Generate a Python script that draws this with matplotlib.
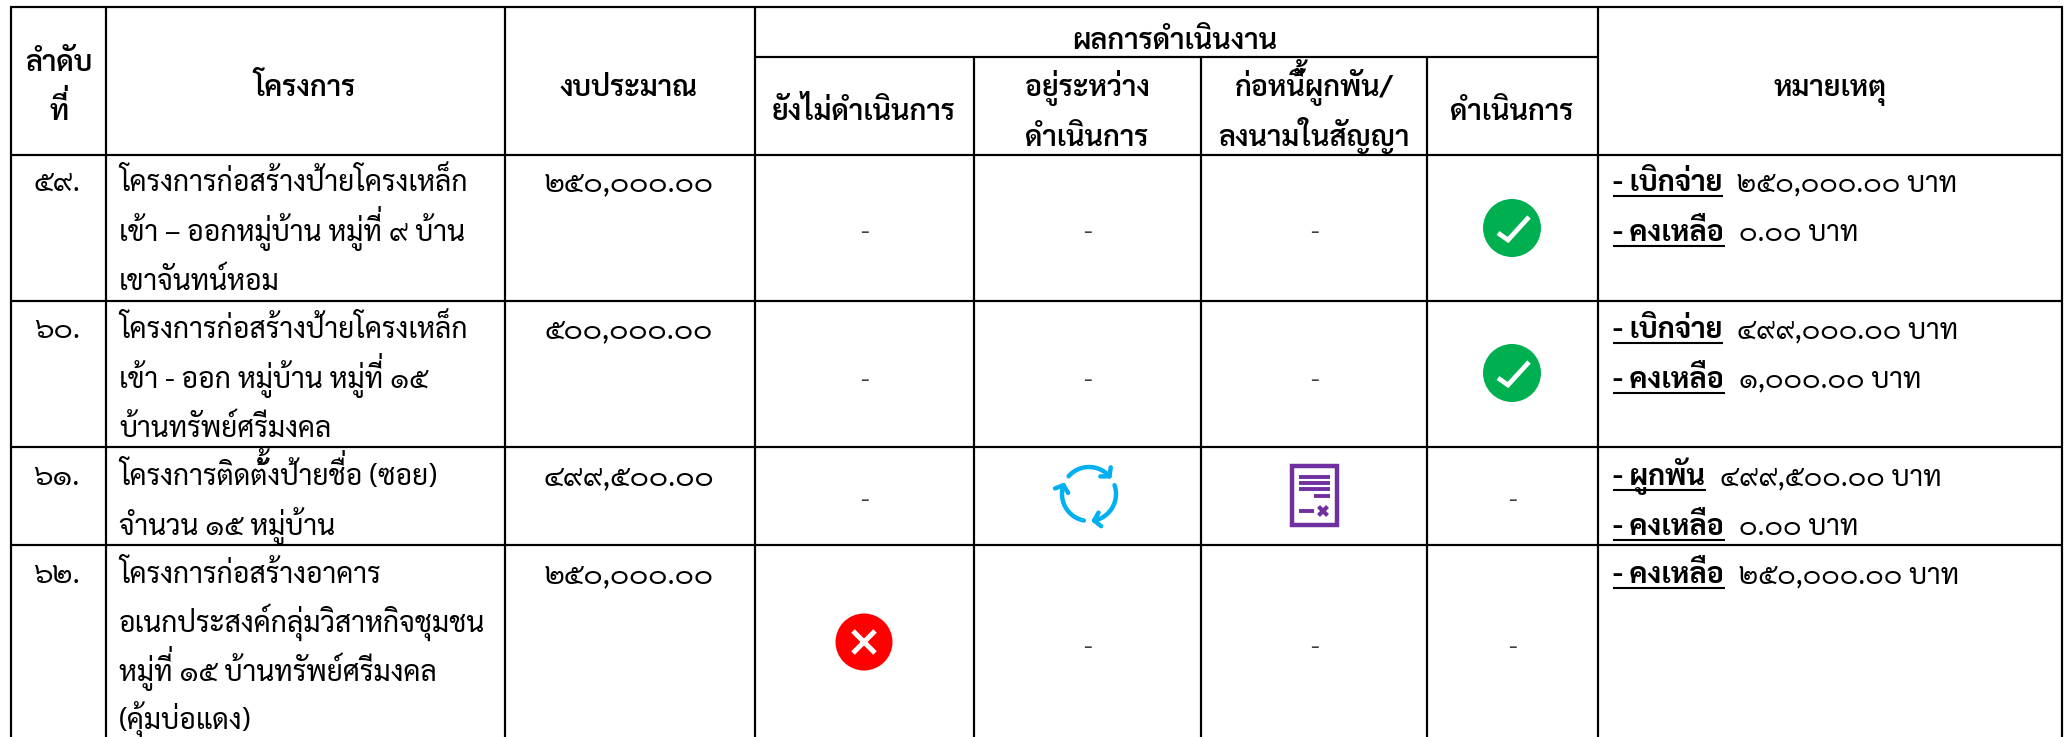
import matplotlib
matplotlib.use('Agg')
import matplotlib.pyplot as plt
import matplotlib.patches as mpatches
import numpy as np

plt.rcParams['font.family'] = ['Sarabun', 'DejaVu Sans']

# ข้อมูลในตาราง
group_header = 'ผลการดำเนินงาน'
status_headers = [['ยังไม่ดำเนินการ'], ['อยู่ระหว่าง', 'ดำเนินการ'], ['ก่อหนี้ผูกพัน/', 'ลงนามในสัญญา'], ['ดำเนินการ']]
order_no = ['๕๙.', '๖๐.', '๖๑.', '๖๒.']
projects = [
    ['โครงการก่อสร้างป้ายโครงเหล็ก', 'เข้า – ออกหมู่บ้าน หมู่ที่ ๙ บ้าน', 'เขาจันทน์หอม'],
    ['โครงการก่อสร้างป้ายโครงเหล็ก', 'เข้า - ออก หมู่บ้าน หมู่ที่ ๑๕', 'บ้านทรัพย์ศรีมงคล'],
    ['โครงการติดตั้งป้ายชื่อ (ซอย)', 'จำนวน ๑๕ หมู่บ้าน'],
    ['โครงการก่อสร้างอาคาร', 'อเนกประสงค์กลุ่มวิสาหกิจชุมชน', 'หมู่ที่ ๑๕ บ้านทรัพย์ศรีมงคล', '(คุ้มบ่อแดง)'],
]
budgets = ['๒๕๐,๐๐๐.๐๐', '๕๐๐,๐๐๐.๐๐', '๔๙๙,๕๐๐.๐๐', '๒๕๐,๐๐๐.๐๐']
# ช่องสถานะ: '-' หรือชื่อไอคอน
status = [
    ['-', '-', '-', 'check'],
    ['-', '-', '-', 'check'],
    ['-', 'cycle', 'doc', '-'],
    ['cross', '-', '-', '-'],
]
notes = [
    [('- เบิกจ่าย', '๒๕๐,๐๐๐.๐๐ บาท'), ('- คงเหลือ', '๐.๐๐ บาท')],
    [('- เบิกจ่าย', '๔๙๙,๐๐๐.๐๐ บาท'), ('- คงเหลือ', '๑,๐๐๐.๐๐ บาท')],
    [('- ผูกพัน', '๔๙๙,๕๐๐.๐๐ บาท'), ('- คงเหลือ', '๐.๐๐ บาท')],
    [('- คงเหลือ', '๒๕๐,๐๐๐.๐๐ บาท')],
]

# ตำแหน่งเส้นตาราง (พิกเซล)
col_x = [10.5, 105.5, 505, 754.5, 974, 1201, 1427, 1598, 2062]
row_y = [155, 300.5, 446.5, 545]
top_y = 7
sub_y = 57
bottom_y = 737
first_base = [191, 338, 485, 583]
line_step = [49.5, 49.5, 50, 49]
mark_y = [228, 373, 497, 642]
dash_y = [232, 380, 500, 647]

BODY = 20.3
HEAD = 20.7
DIGIT = 20.9
NOTE_DIGIT = 20.2

fig = plt.figure(figsize=(20.69, 7.37), dpi=100)
ax = fig.add_axes([0, 0, 1, 1])
ax.set_xlim(0, 2069)
ax.set_ylim(737, 0)
ax.axis('off')
renderer = fig.canvas.get_renderer()

lw = 2.2 * 0.72
def hline(y, x0, x1):
    ax.plot([x0, x1], [y, y], color='black', lw=lw, solid_capstyle='butt')
def vline(x, y0, y1):
    ax.plot([x, x], [y0, y1], color='black', lw=lw, solid_capstyle='butt')

hline(top_y, col_x[0] - 1, col_x[-1] + 1)
hline(sub_y, col_x[3], col_x[7])
for y in row_y:
    hline(y, col_x[0] - 1, col_x[-1] + 1)
for i, x in enumerate(col_x):
    if i in (4, 5, 6):
        vline(x, sub_y, bottom_y)
    else:
        vline(x, top_y, bottom_y)

UPPER = 'ัิีึื'
TONES = '่้๊๋'

def put(x, y, s, fontsize, weight, color='black', ha='left'):
    # ไม่มีการจัดรูปอักษรไทย: วรรณยุกต์ที่ซ้อนสระบนต้องยกขึ้นเอง
    t = ax.text(x, y, s, ha=ha, va='baseline', fontsize=fontsize, weight=weight, color=color)
    x0 = t.get_window_extent(renderer).x0
    for k in range(1, len(s) - 1):
        if s[k] in UPPER and s[k + 1] in TONES:
            t2 = ax.text(0, 0, s[:k], fontsize=fontsize, weight=weight)
            w = t2.get_window_extent(renderer).width
            t2.remove()
            ax.text(x0 + w + 1, y - fontsize * 0.42, '\u00a0' + s[k + 1], ha='right', va='baseline',
                    fontsize=fontsize, weight=weight, color=color)
    return t

def head(x, y, s):
    put(x, y, s, HEAD, 'semibold', ha='center')

head(59, 71, 'ลำดับ')
head(59, 120, 'ที่')
head(305, 96, 'โครงการ')
head(629, 96, 'งบประมาณ')
head(1175, 49, group_header)
head(1830, 96, 'หมายเหตุ')
centers = [864, 1087, 1314, 1512]
for cx, lines in zip(centers, status_headers):
    if len(lines) == 1:
        head(cx, 120, lines[0])
    else:
        head(cx, 96, lines[0])
        head(cx, 146, lines[1])

def draw_check(cx, cy):
    ax.add_patch(mpatches.Circle((cx, cy), 29, color='#00B050', lw=0))
    ax.plot([cx - 14, cx - 4, cx + 17], [cy + 5, cy + 12, cy - 11], color='white', lw=3.4,
            solid_joinstyle='miter', solid_capstyle='butt')

def draw_cross(cx, cy):
    ax.add_patch(mpatches.Circle((cx, cy), 28.5, color='#FF0000', lw=0))
    for sx in (1, -1):
        ax.plot([cx - 11 * sx, cx + 11 * sx], [cy - 11, cy + 11], color='white', lw=3.6,
                solid_capstyle='butt')

def draw_cycle(cx, cy):
    cx, cy = cx + 2, cy - 3
    r = 27
    blue = '#00B0F0'
    for a0, a1 in [(139, 41), (19, -79), (-101, -199)]:
        t = np.radians(np.linspace(a0, a1, 30))
        ax.plot(cx + r * np.cos(t), cy - r * np.sin(t), color=blue, lw=3.2, solid_capstyle='round')
        tip = np.array([cx + r * np.cos(t[-1]), cy - r * np.sin(t[-1])])
        back = np.array([-np.sin(t[-1]), -np.cos(t[-1])])
        for d in (50, -50):
            c, s = np.cos(np.radians(d)), np.sin(np.radians(d))
            v = np.array([c * back[0] - s * back[1], s * back[0] + c * back[1]])
            ax.plot([tip[0], tip[0] + 9 * v[0]], [tip[1], tip[1] + 9 * v[1]], color=blue, lw=3.2,
                    solid_capstyle='round')

def draw_doc(cx, cy):
    cy = cy - 2
    purple = '#7030A0'
    ax.add_patch(mpatches.Rectangle((cx - 22.5, cy - 29.5), 45, 59, fc='white', ec=purple, lw=3.2))
    for y, x0, x1 in [(-18.5, -15, 16), (-12.5, -15, 16), (-6.5, -15, 16), (0.5, 0, 16), (16, -15, 0)]:
        ax.plot([cx + x0, cx + x1], [cy + y, cy + y], color=purple, lw=2.8, solid_capstyle='butt')
    for sx in (1, -1):
        ax.plot([cx + 9 - 4.5 * sx, cx + 9 + 4.5 * sx], [cy + 11.5, cy + 20.5], color=purple, lw=3,
                solid_capstyle='butt')

icons = {'check': draw_check, 'cross': draw_cross, 'cycle': draw_cycle, 'doc': draw_doc}

for r in range(4):
    base = first_base[r]
    step = line_step[r]
    put(57, base, order_no[r], DIGIT, 'normal', ha='center')
    for i, s in enumerate(projects[r]):
        put(119, base + i * step, s, BODY, 'normal')
    put(629, base, budgets[r], DIGIT, 'normal', ha='center')
    for c in range(4):
        st = status[r][c]
        if st == '-':
            ax.text(centers[c], dash_y[r], '-', ha='center', va='center', fontsize=18, color='#404040')
        else:
            icons[st](centers[c], mark_y[r])
    for i, (lab, val) in enumerate(notes[r]):
        y = base + i * step
        t = put(1613, y, lab, BODY + 0.4, 'bold')
        ext = t.get_window_extent(renderer)
        ax.plot([1613, ext.x1 + 1], [y + 5, y + 5], color='black', lw=1.5, solid_capstyle='butt')
        put(ext.x1 + 15, y, val, NOTE_DIGIT, 'normal')

fig.savefig('out.png', dpi=100)
